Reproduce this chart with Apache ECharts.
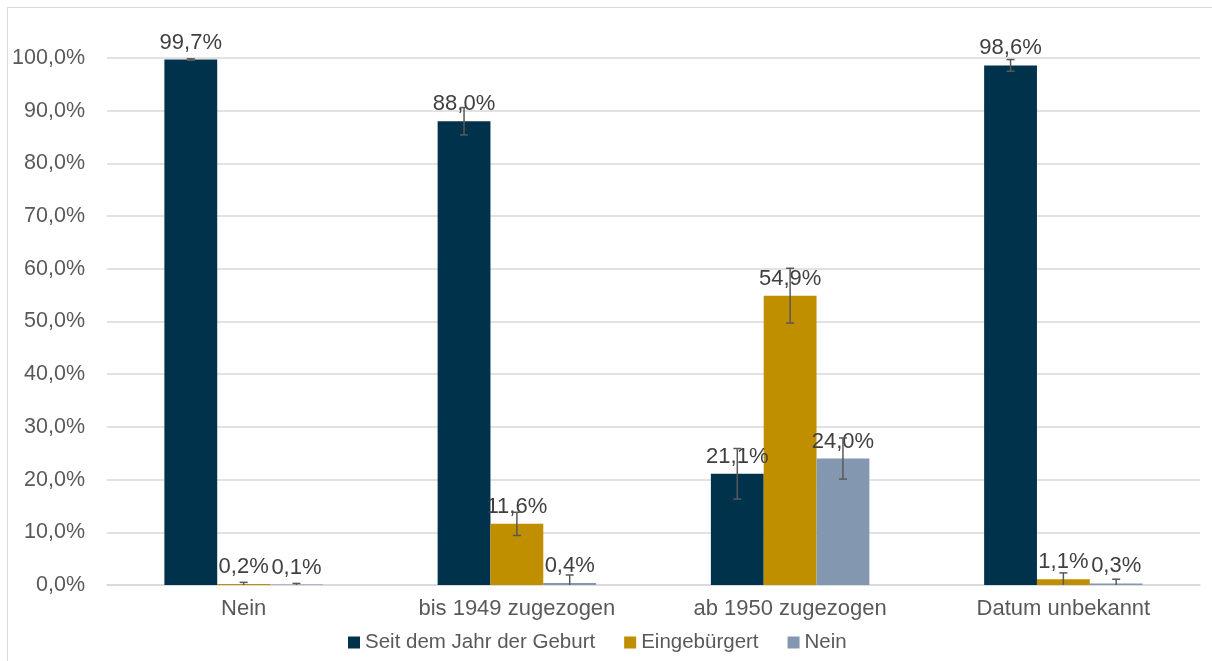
<!DOCTYPE html>
<html>
<head>
<meta charset="utf-8">
<script src="https://cdn.jsdelivr.net/npm/echarts@6/dist/echarts.min.js"></script>
<style>
  html, body { margin: 0; padding: 0; background: #fff; }
  #frame { position: absolute; left: 7px; top: 7px; width: 1220px; height: 670px;
           border-left: 1px solid #d9d9d9; border-top: 1px solid #d9d9d9; }
  #chart { position: absolute; left: 0; top: 0; width: 1212px; height: 661px; }
</style>
</head>
<body>
<div id="frame"></div>
<div id="chart"></div>
<script>
// Kategorien und Werte (Prozent)
const categories = ['Nein', 'bis 1949 zugezogen', 'ab 1950 zugezogen', 'Datum unbekannt'];
const seriesNames = ['Seit dem Jahr der Geburt', 'Eingebürgert', 'Nein'];
const seitGeburt = [99.7, 88.0, 21.1, 98.6];
const eingebuergert = [0.2, 11.6, 54.9, 1.1];
const nein = [0.1, 0.4, 24.0, 0.3];
// Fehlerbalken (+/-)
const errSeitGeburt = [0.15, 2.6, 4.8, 1.1];
const errEingebuergert = [0.3, 2.2, 5.2, 1.2];
const errNein = [0.2, 1.5, 3.9, 0.8];

const colors = ['#00324b', '#bf8f00', '#8497b0'];
const values = [seitGeburt, eingebuergert, nein];
const errors = [errSeitGeburt, errEingebuergert, errNein];
const font = 'Liberation Sans, Arial, sans-serif';
const gapRatio = 0.42;

const fmt = v => v.toFixed(1).replace('.', ',') + '%';

const errData = [];
values.forEach((arr, si) => {
    arr.forEach((v, ci) => {
        errData.push([ci, si, v - errors[si][ci], v + errors[si][ci]]);
    });
});

const myChart = echarts.init(document.getElementById('chart'));

const barSeries = values.map((arr, si) => ({
    name: seriesNames[si],
    type: 'bar',
    data: arr,
    barGap: 0,
    barCategoryGap: (gapRatio * 100) + '%',
    itemStyle: { color: colors[si] },
    label: {
        show: true,
        position: 'top',
        distance: 6,
        formatter: p => fmt(p.value),
        color: '#404040',
        fontSize: 22,
        fontFamily: font
    },
    z: 2
}));

const option = {
    animation: false,
    grid: { left: 107, right: 12, top: 58, bottom: 76 },
    legend: {
        bottom: 3,
        left: 343,
        icon: 'rect',
        itemWidth: 12,
        itemHeight: 12,
        itemGap: 29,
        data: seriesNames,
        textStyle: { color: '#595959', fontSize: 20.5, fontFamily: font }
    },
    xAxis: {
        type: 'category',
        data: categories,
        axisLine: { show: true, lineStyle: { color: '#d9d9d9', width: 1.5 } },
        axisTick: { show: false },
        axisLabel: { color: '#595959', fontSize: 22, fontFamily: font, margin: 13 }
    },
    yAxis: {
        type: 'value',
        min: 0,
        max: 100,
        interval: 10,
        axisLine: { show: false },
        axisTick: { show: false },
        splitLine: { lineStyle: { color: '#d9d9d9', width: 1.5 } },
        axisLabel: {
            color: '#595959', fontSize: 21.5, fontFamily: font, margin: 22,
            formatter: v => fmt(v)
        }
    },
    series: barSeries.concat([{
        type: 'custom',
        name: 'Fehler',
        data: errData,
        z: 5,
        silent: true,
        renderItem: function (params, api) {
            const ci = api.value(0), si = api.value(1);
            const lo = Math.max(api.value(2), 0), hi = api.value(3);
            const band = api.size([1, 0])[0];
            const barW = band * (1 - gapRatio) / 3;
            const x = api.coord([ci, 0])[0] + (si - 1) * barW;
            const yLo = api.coord([ci, lo])[1];
            const yHi = api.coord([ci, hi])[1];
            const cap = 4;
            const style = { stroke: '#595959', lineWidth: 1.5 };
            const children = [
                { type: 'line', shape: { x1: x, y1: yLo, x2: x, y2: yHi }, style: style },
                { type: 'line', shape: { x1: x - cap, y1: yHi, x2: x + cap, y2: yHi }, style: style }
            ];
            if (api.value(2) > 0) {
                children.push({ type: 'line', shape: { x1: x - cap, y1: yLo, x2: x + cap, y2: yLo }, style: style });
            }
            return { type: 'group', children: children };
        }
    }])
};

myChart.setOption(option);
</script>
</body>
</html>
